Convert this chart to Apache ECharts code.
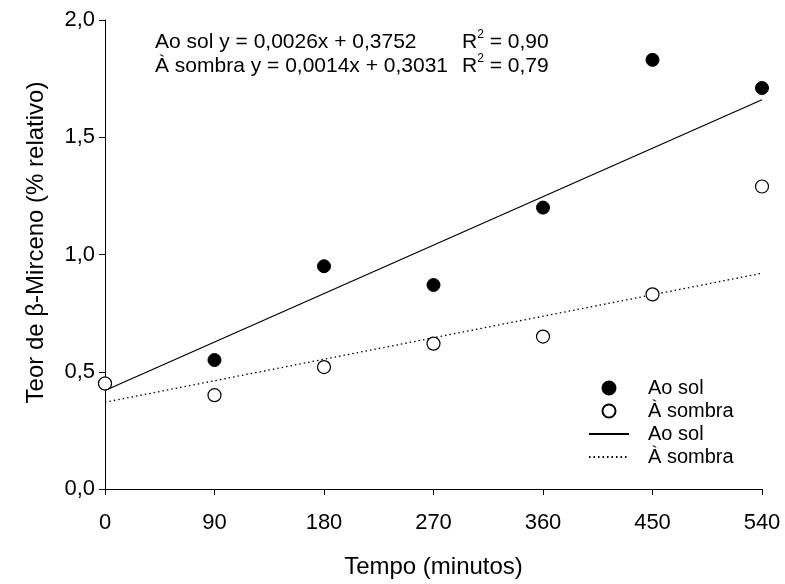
<!DOCTYPE html>
<html><head><meta charset="utf-8">
<script src="https://cdn.jsdelivr.net/npm/echarts@6/dist/echarts.min.js"></script>
<style>html,body{margin:0;padding:0;background:#fff}#c{width:785px;height:584px}</style>
</head><body><div id="c"></div>
<script>
const times = [0, 90, 180, 270, 360, 450, 540];
const aoSol = [0.45, 0.55, 0.95, 0.87, 1.20, 1.83, 1.71];
const aSombra = [0.45, 0.40, 0.52, 0.62, 0.65, 0.83, 1.29];
const trendX = [0, 540];
const aoSolTrend = [0.42, 1.66];
const aSombraTrend = [0.37, 0.92];
const xTicks = [0, 90, 180, 270, 360, 450, 540];
const yTicks = [0, 0.5, 1.0, 1.5, 2.0];
const names = ['Ao sol', 'À sombra'];
const eqSol = 'Ao sol y = 0,0026x + 0,3752';
const eqSombra = 'À sombra y = 0,0014x + 0,3031';
const r2 = ['0,90', '0,79'];

const FONT = 'Liberation Sans, Arial, sans-serif';
const pairs = (xs, ys) => xs.map((x, i) => [x, ys[i]]);
const r2Rich = {
  b: {fontSize: 21, fontFamily: FONT, color: '#000', lineHeight: 24, verticalAlign: 'bottom'},
  s: {fontSize: 12, fontFamily: FONT, color: '#000', lineHeight: 24, verticalAlign: 'top', padding: [0, 0, 10, 0]}
};
const chart = echarts.init(document.getElementById('c'));
chart.setOption({
  animation: false,
  backgroundColor: '#fff',
  textStyle: {fontFamily: FONT, color: '#000'},
  grid: {left: 105, right: 23, top: 20, bottom: 94},
  xAxis: {
    type: 'value', min: xTicks[0], max: xTicks[xTicks.length - 1], interval: 90,
    name: 'Tempo (minutos)', nameLocation: 'middle', nameGap: 66,
    nameTextStyle: {fontSize: 24, fontFamily: FONT, color: '#000'},
    axisLine: {onZero: false, lineStyle: {color: '#000', width: 1}},
    axisTick: {show: true, length: 6, lineStyle: {color: '#000'}},
    axisLabel: {fontSize: 22, color: '#000', margin: 23, fontFamily: FONT},
    splitLine: {show: false}
  },
  yAxis: {
    type: 'value', min: yTicks[0], max: yTicks[yTicks.length - 1], interval: 0.5,
    name: 'Teor de β-Mirceno (% relativo)', nameLocation: 'middle', nameGap: 57,
    nameTextStyle: {fontSize: 24, fontFamily: FONT, color: '#000', padding: [0, 0, 0, 24]},
    axisLine: {show: true, lineStyle: {color: '#000', width: 1}},
    axisTick: {show: true, length: 6, lineStyle: {color: '#000'}},
    axisLabel: {fontSize: 22, color: '#000', margin: 10, fontFamily: FONT,
      formatter: v => v.toFixed(1).replace('.', ',')},
    splitLine: {show: false}
  },
  legend: {
    orient: 'vertical', left: 583, top: 373, itemWidth: 40, itemHeight: 13, itemGap: 3,
    symbolKeepAspect: true,
    textStyle: {fontSize: 20, color: '#000', fontFamily: FONT, padding: [0, 0, 0, 14]},
    data: [
      {name: names[0], icon: 'circle'},
      {name: names[1], icon: 'circle'},
      {name: names[0] + ' ', itemStyle: {color: 'rgba(0,0,0,0)', borderColor: 'rgba(0,0,0,0)', borderWidth: 0}},
      {name: names[1] + ' ', itemStyle: {color: 'rgba(0,0,0,0)', borderColor: 'rgba(0,0,0,0)', borderWidth: 0}}
    ],
    formatter: n => n.trim()
  },
  series: [
    {name: names[0] + ' ', type: 'line', data: pairs(trendX, aoSolTrend), symbol: 'none',
     lineStyle: {color: '#000', width: 1.3, type: 'solid'}, itemStyle: {color: 'rgba(0,0,0,0)'}, z: 1},
    {name: names[1] + ' ', type: 'line', data: pairs(trendX, aSombraTrend), symbol: 'none',
     lineStyle: {color: '#000', width: 1.3, type: [1.5, 3]}, itemStyle: {color: 'rgba(0,0,0,0)'}, z: 1},
    {name: names[0], type: 'scatter', data: pairs(times, aoSol), symbol: 'circle', symbolSize: 13,
     itemStyle: {color: '#000', borderColor: '#000', borderWidth: 1, opacity: 1}, z: 3},
    {name: names[1], type: 'scatter', data: pairs(times, aSombra), symbol: 'circle', symbolSize: 13,
     itemStyle: {color: '#fff', borderColor: '#000', borderWidth: 1.2, opacity: 1}, z: 4}
  ],
  graphic: [
    {type: 'text', left: 155, top: 32, style: {text: eqSol, font: '21px ' + FONT, fill: '#000'}},
    {type: 'text', left: 155, top: 56, style: {text: eqSombra, font: '21px ' + FONT, fill: '#000'}},
    {type: 'text', left: 462, top: 29, style: {text: '{b|R}{s|2}{b| = ' + r2[0] + '}', rich: r2Rich}},
    {type: 'text', left: 462, top: 53, style: {text: '{b|R}{s|2}{b| = ' + r2[1] + '}', rich: r2Rich}}
  ]
});
</script></body></html>
